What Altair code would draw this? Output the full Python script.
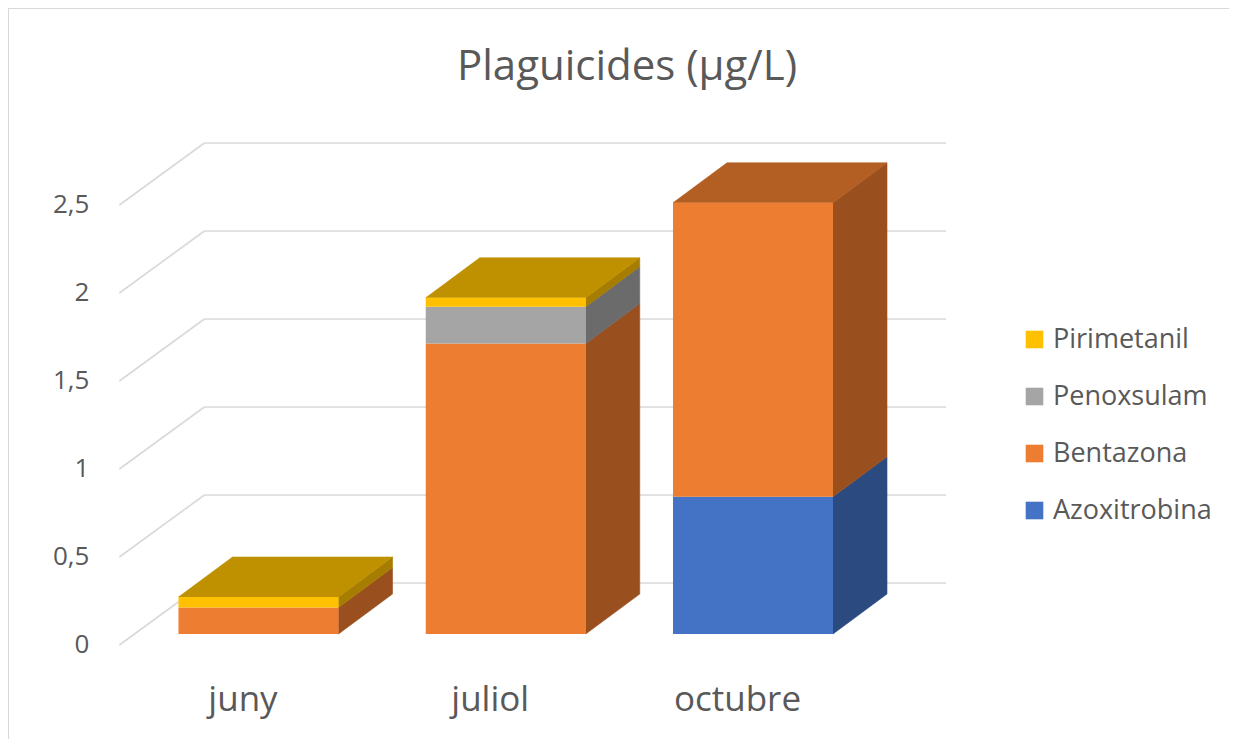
import altair as alt
import pandas as pd

# ---------------- data ----------------
months = ["juny", "juliol", "octubre"]
series = ["Azoxitrobina", "Bentazona", "Penoxsulam", "Pirimetanil"]  # stacked bottom -> top
azoxitrobina = [0.0, 0.0, 0.78]
bentazona = [0.15, 1.65, 1.67]
penoxsulam = [0.0, 0.21, 0.0]
pirimetanil = [0.06, 0.05, 0.0]
tick_values = [0, 0.5, 1, 1.5, 2, 2.5]
tick_labels = ["0", "0,5", "1", "1,5", "2", "2,5"]
title_text = "Plaguicides (µg/L)"
legend_order = ["Pirimetanil", "Penoxsulam", "Bentazona", "Azoxitrobina"]

# ---------------- styles ----------------
front_colors = {"Azoxitrobina": "#4472C4", "Bentazona": "#ED7D31",
                "Penoxsulam": "#A5A5A5", "Pirimetanil": "#FFC000"}
side_colors = {"Azoxitrobina": "#2B4A7F", "Bentazona": "#9A501E",
               "Penoxsulam": "#6B6B6B", "Pirimetanil": "#A67D00"}
top_colors = {"Azoxitrobina": "#335A9E", "Bentazona": "#B35E22",
              "Penoxsulam": "#838383", "Pirimetanil": "#BF9000"}
TEXT = "#595959"
GRID = "#D9D9D9"
FONT = "Open Sans"

# ---------------- layout (pixels -> data units) ----------------
W, H = 1221, 731
PX_PER_CAT = 247.25
PX_PER_UNIT = 176.0
X0_PX = 250.5
Y0_PX = 626.0
X_DOMAIN = [-X0_PX / PX_PER_CAT, (W - X0_PX) / PX_PER_CAT]
Y_DOMAIN = [(Y0_PX - H) / PX_PER_UNIT, Y0_PX / PX_PER_UNIT]
BAR_W = 160 / PX_PER_CAT
DX = 54 / PX_PER_CAT
DY = 40 / PX_PER_UNIT
GX = 15.5 / PX_PER_CAT
GY = 11 / PX_PER_UNIT

xs = alt.Scale(domain=X_DOMAIN, nice=False, zero=False)
ys = alt.Scale(domain=Y_DOMAIN, nice=False, zero=False)

values = {"Azoxitrobina": azoxitrobina, "Bentazona": bentazona,
          "Penoxsulam": penoxsulam, "Pirimetanil": pirimetanil}

fronts, sides, tops = [], [], []
for i, m in enumerate(months):
    base = 0.0
    top_s = None
    for s in series:
        v = values[s][i]
        if v <= 0:
            continue
        lo, hi = base, base + v
        fronts.append(dict(month=m, serie=s, x=i - BAR_W / 2, x2=i + BAR_W / 2, y=lo, y2=hi))
        fid = f"{m}-{s}"
        sides.append(dict(face=fid, x=i + BAR_W / 2, lo=lo, hi=hi, c=side_colors[s]))
        sides.append(dict(face=fid, x=i + BAR_W / 2 + DX, lo=lo + DY, hi=hi + DY, c=side_colors[s]))
        base = hi
        top_s = s
    fid = f"{m}-top"
    tops.append(dict(face=fid, y=base, x=i - BAR_W / 2, x2=i + BAR_W / 2, c=top_colors[top_s]))
    tops.append(dict(face=fid, y=base + DY, x=i - BAR_W / 2 + DX, x2=i + BAR_W / 2 + DX, c=top_colors[top_s]))

grid = []
for v in tick_values:
    grid.append(dict(x=-0.5 + DX + GX, x2=2.5 + DX + GX, y=v + DY + GY, y2=v + DY + GY))
    grid.append(dict(x=-0.5 - GX, x2=-0.5 + DX + GX, y=v - GY, y2=v + DY + GY))

ylab = pd.DataFrame(dict(x=[-0.5 - GX] * len(tick_values),
                         y=[v - GY for v in tick_values], t=tick_labels))
xlab = pd.DataFrame(dict(x=[i - GX for i in range(len(months))],
                         y=[-GY] * len(months), t=months))

grid_layer = alt.Chart(pd.DataFrame(grid)).mark_rule(color=GRID, strokeWidth=1.6).encode(
    x=alt.X("x:Q", scale=xs, axis=None), x2="x2:Q",
    y=alt.Y("y:Q", scale=ys, axis=None), y2="y2:Q")

side_layer = alt.Chart(pd.DataFrame(sides)).mark_area(strokeWidth=0.6).encode(
    x=alt.X("x:Q", scale=xs, axis=None),
    y=alt.Y("lo:Q", scale=ys, axis=None, stack=None), y2="hi:Q",
    detail="face:N",
    fill=alt.Fill("c:N", scale=None), stroke=alt.Stroke("c:N", scale=None))

top_layer = alt.Chart(pd.DataFrame(tops)).mark_area(orient="horizontal", strokeWidth=0.6).encode(
    y=alt.Y("y:Q", scale=ys, axis=None),
    x=alt.X("x:Q", scale=xs, axis=None, stack=None), x2="x2:Q",
    detail="face:N",
    fill=alt.Fill("c:N", scale=None), stroke=alt.Stroke("c:N", scale=None))

front_layer = alt.Chart(pd.DataFrame(fronts)).mark_rect().encode(
    x=alt.X("x:Q", scale=xs, axis=None), x2="x2:Q",
    y=alt.Y("y:Q", scale=ys, axis=None), y2="y2:Q",
    color=alt.Color("serie:N",
                    scale=alt.Scale(domain=legend_order,
                                    range=[front_colors[s] for s in legend_order]),
                    legend=alt.Legend(title=None, orient="none", legendX=1013, legendY=318,
                                      symbolType="square", symbolSize=310, symbolStrokeWidth=0,
                                      labelFont=FONT, labelFontSize=27, labelColor=TEXT,
                                      labelOffset=5, rowPadding=29, labelLimit=300)))

ylab_layer = alt.Chart(ylab).mark_text(align="right", baseline="middle", dx=-30,
                                       font=FONT, fontSize=26, color=TEXT).encode(
    x=alt.X("x:Q", scale=xs, axis=None), y=alt.Y("y:Q", scale=ys, axis=None), text="t:N")

xlab_layer = alt.Chart(xlab).mark_text(align="center", baseline="alphabetic", dy=66,
                                       font=FONT, fontSize=35, color=TEXT).encode(
    x=alt.X("x:Q", scale=xs, axis=None), y=alt.Y("y:Q", scale=ys, axis=None), text="t:N")

title_layer = alt.Chart(pd.DataFrame(dict(t=[title_text]))).mark_text(
    align="center", baseline="alphabetic", font=FONT, fontSize=42, color=TEXT).encode(
    x=alt.value(619), y=alt.value(72), text="t:N")

border_layer = alt.Chart(pd.DataFrame(dict(k=[0]))).mark_rule(color=GRID, strokeWidth=2).encode(
    x=alt.value(0), x2=alt.value(W), y=alt.value(0))
border_left = alt.Chart(pd.DataFrame(dict(k=[0]))).mark_rule(color=GRID, strokeWidth=2).encode(
    x=alt.value(0), y=alt.value(0), y2=alt.value(H))

chart = alt.layer(border_layer, border_left, grid_layer, side_layer, top_layer, front_layer,
                  ylab_layer, xlab_layer, title_layer).properties(
    width=W, height=H, padding=0,
    autosize=alt.AutoSizeParams(type="none"),
    background="white",
).configure_view(stroke=None)

chart.save("out.html", embed_options={"renderer": "svg", "actions": False})
